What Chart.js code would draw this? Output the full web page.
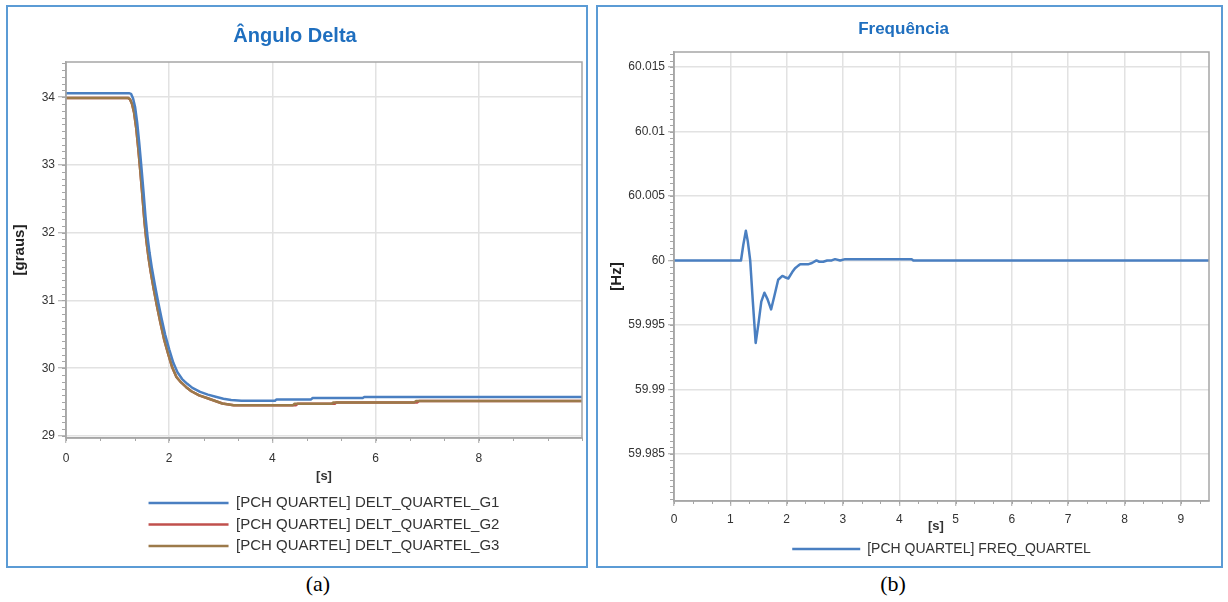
<!DOCTYPE html>
<html>
<head>
<meta charset="utf-8">
<script src="https://cdn.jsdelivr.net/npm/chart.js@4.4.0/dist/chart.umd.min.js"></script>
<style>
body { margin: 0; background: #fff; width: 1228px; height: 602px; position: relative; overflow: hidden; }
.box { position: absolute; border: 2px solid #5b9bd5; background: #fff; }
#boxA { left: 6px; top: 5px; width: 578px; height: 559px; }
#boxB { left: 596px; top: 5px; width: 623px; height: 559px; }
.cap { position: absolute; top: 571px; width: 100px; text-align: center; font: 22px "Liberation Serif", "Times New Roman", serif; color: #000; }
</style>
</head>
<body>
<div class="box" id="boxA"><canvas id="delta" width="578" height="559"></canvas></div>
<div class="box" id="boxB"><canvas id="freq" width="623" height="559"></canvas></div>
<div class="cap" style="left:268px">(a)</div>
<div class="cap" style="left:843px">(b)</div>
<script>
// Ângulo Delta (graus) x tempo (s)
const tG1 = [0, 1.22, 1.26, 1.30, 1.34, 1.38, 1.42, 1.46, 1.50, 1.54, 1.58, 1.62, 1.66, 1.72, 1.78, 1.85, 1.92, 2.00, 2.08, 2.16, 2.25, 2.35, 2.45, 2.60, 2.75, 2.90, 3.05, 3.20, 3.40, 4.05, 4.08, 4.75, 4.78, 5.75, 5.78, 10]
const vG1 = [34.06, 34.06, 34.05, 33.98, 33.85, 33.62, 33.32, 32.98, 32.62, 32.24, 31.94, 31.70, 31.50, 31.24, 31.00, 30.74, 30.50, 30.28, 30.08, 29.94, 29.84, 29.77, 29.71, 29.65, 29.61, 29.58, 29.55, 29.53, 29.52, 29.52, 29.54, 29.54, 29.56, 29.56, 29.575, 29.575]
const tG2 = [0, 1.20, 1.24, 1.28, 1.32, 1.36, 1.40, 1.44, 1.48, 1.52, 1.56, 1.60, 1.64, 1.70, 1.76, 1.83, 1.90, 1.98, 2.06, 2.14, 2.23, 2.33, 2.43, 2.58, 2.73, 2.88, 3.03, 3.25, 4.46, 4.49, 5.21, 5.24, 6.81, 6.84, 10]
const vG2 = [33.99, 33.99, 33.97, 33.90, 33.77, 33.55, 33.25, 32.91, 32.55, 32.17, 31.87, 31.63, 31.43, 31.17, 30.93, 30.67, 30.43, 30.21, 30.01, 29.87, 29.79, 29.72, 29.66, 29.60, 29.56, 29.52, 29.48, 29.455, 29.455, 29.475, 29.475, 29.495, 29.495, 29.515, 29.515]
const tG3 = [0, 1.20, 1.24, 1.28, 1.32, 1.36, 1.40, 1.44, 1.48, 1.52, 1.56, 1.60, 1.64, 1.70, 1.76, 1.83, 1.90, 1.98, 2.06, 2.14, 2.23, 2.33, 2.43, 2.58, 2.73, 2.88, 3.03, 3.25, 4.40, 4.43, 5.15, 5.18, 6.75, 6.78, 10]
const vG3 = [33.99, 33.99, 33.97, 33.90, 33.77, 33.55, 33.25, 32.91, 32.55, 32.17, 31.87, 31.63, 31.43, 31.17, 30.93, 30.67, 30.43, 30.21, 30.01, 29.87, 29.79, 29.72, 29.66, 29.60, 29.56, 29.52, 29.48, 29.455, 29.455, 29.475, 29.475, 29.495, 29.495, 29.515, 29.515]
const nomesDelta = ['[PCH QUARTEL] DELT_QUARTEL_G1', '[PCH QUARTEL] DELT_QUARTEL_G2', '[PCH QUARTEL] DELT_QUARTEL_G3']
const coresDelta = ['#4a7fc1', '#c0504d', '#9c7a4a']
const ticksDeltaX = [0, 2, 4, 6, 8]
const ticksDeltaY = [29, 30, 31, 32, 33, 34]

// Frequência (Hz) x tempo (s)
const tF = [0, 1.19, 1.23, 1.276, 1.31, 1.353, 1.40, 1.45, 1.50, 1.55, 1.606, 1.66, 1.724, 1.78, 1.85, 1.924, 1.97, 2.03, 2.10, 2.15, 2.207, 2.24, 2.30, 2.38, 2.45, 2.53, 2.58, 2.65, 2.72, 2.80, 2.86, 2.95, 3.04, 4.22, 4.25, 9.5]
const vF = [60, 60, 60.0012, 60.0023, 60.0015, 60.0, 59.9968, 59.9936, 59.9951, 59.9968, 59.9975, 59.9970, 59.9962, 59.9972, 59.9985, 59.9988, 59.9987, 59.9986, 59.9991, 59.9994, 59.9996, 59.9997, 59.9997, 59.9997, 59.9998, 60.0, 59.9999, 59.9999, 60.0, 60.0, 60.0001, 60.0, 60.0001, 60.0001, 60.0, 60.0]
const nomeFreq = '[PCH QUARTEL] FREQ_QUARTEL'
const ticksFreqX = [0, 1, 2, 3, 4, 5, 6, 7, 8, 9]
const ticksFreqY = [59.985, 59.99, 59.995, 60, 60.005, 60.01, 60.015]

Chart.defaults.font.family = '"Liberation Sans", Arial, sans-serif'
Chart.defaults.color = '#333'

const pares = (t, v) => t.map((x, i) => ({x: x, y: v[i]}))

// moldura do gráfico + tracinhos menores nos eixos
const moldura = {
    id: 'moldura',
    afterDraw(chart, args, o) {
        const {ctx, chartArea: a, scales: {x, y}} = chart
        ctx.save()
        ctx.strokeStyle = '#a6a6a6'
        ctx.lineWidth = 1.5
        ctx.strokeRect(a.left, a.top, a.right - a.left, a.bottom - a.top)
        ctx.lineWidth = 1
        ctx.beginPath()
        for (let i = Math.ceil(x.min / o.xStep - 1e-6); i * o.xStep <= x.max + 1e-9; i++) {
            const px = Math.round(x.getPixelForValue(i * o.xStep)) + 0.5
            ctx.moveTo(px, a.bottom)
            ctx.lineTo(px, a.bottom + 3)
        }
        for (let i = Math.ceil(y.min / o.yStep - 1e-6); i * o.yStep <= y.max + 1e-9; i++) {
            const py = Math.round(y.getPixelForValue(i * o.yStep)) + 0.5
            ctx.moveTo(a.left - 4, py)
            ctx.lineTo(a.left, py)
        }
        ctx.stroke()
        if (o.xLabel) {
            ctx.fillStyle = '#333'
            ctx.font = 'bold 13px "Liberation Sans", Arial, sans-serif'
            ctx.textAlign = 'center'
            ctx.textBaseline = 'middle'
            ctx.fillText(o.xLabel.text, x.getPixelForValue(o.xLabel.at), a.bottom + o.xLabel.dy)
        }
        ctx.restore()
    }
}

function eixo(ticksArr, tickLen, pad) {
    return {
        type: 'linear',
        afterBuildTicks: s => { s.ticks = ticksArr.map(v => ({value: v})) },
        grid: {color: '#e2e2e2', lineWidth: 1.5, tickColor: '#a6a6a6', tickLength: tickLen, tickWidth: 1},
        border: {color: '#a6a6a6', width: 1.5},
        ticks: {color: '#333', font: {size: 12}, padding: pad, maxRotation: 0, autoSkip: false, callback: v => String(v)}
    }
}

const xDelta = eixo(ticksDeltaX, 5, 8)
xDelta.min = 0
xDelta.max = 10
xDelta.afterFit = s => { s.height = 51 }
xDelta.title = {display: true, text: '[s]', color: '#333', font: {size: 13, weight: 'bold'}, padding: {top: 0, bottom: 5.2}}

const yDelta = eixo(ticksDeltaY, 8, 3)
yDelta.min = 28.97
yDelta.max = 34.52
yDelta.afterFit = s => { s.width = 58 }
yDelta.title = {display: true, text: '[graus]', color: '#222', font: {size: 15, weight: 'bold'}, padding: {top: 3, bottom: 0}}

new Chart(document.querySelector('#delta'), {
    type: 'line',
    data: {
        datasets: [
            {label: nomesDelta[0], data: pares(tG1, vG1), borderColor: coresDelta[0], order: 0},
            {label: nomesDelta[1], data: pares(tG2, vG2), borderColor: coresDelta[1], order: 2},
            {label: nomesDelta[2], data: pares(tG3, vG3), borderColor: coresDelta[2], order: 1}
        ].map(d => Object.assign(d, {borderWidth: 2.5, pointRadius: 0, tension: 0, borderJoinStyle: 'round', backgroundColor: d.borderColor}))
    },
    options: {
        responsive: false,
        animation: false,
        devicePixelRatio: 1,
        events: [],
        layout: {padding: {left: 0, top: 0, right: 4, bottom: 2.5}},
        scales: {x: xDelta, y: yDelta},
        plugins: {
            title: {display: true, text: 'Ângulo Delta', color: '#1f6fbf', font: {size: 20, weight: 'bold'}, padding: {top: 17, bottom: 14}},
            legend: {
                position: 'bottom',
                fullSize: false,
                labels: {usePointStyle: true, pointStyle: 'line', pointStyleWidth: 80, padding: 6.5, color: '#333', font: {size: 15},
                    sort: (a, b) => a.datasetIndex - b.datasetIndex}
            },
            tooltip: {enabled: false},
            moldura: {xStep: 2 / 3, yStep: 0.1}
        }
    },
    plugins: [moldura]
})

const xFreq = eixo(ticksFreqX, 5, 6)
xFreq.min = 0
xFreq.max = 9.5
xFreq.afterFit = s => { s.height = 36 }

const yFreq = eixo(ticksFreqY, 6, 3)
yFreq.min = 59.98134
yFreq.max = 60.01617
yFreq.afterFit = s => { s.width = 76 }
yFreq.title = {display: true, text: '[Hz]', color: '#222', font: {size: 15, weight: 'bold'}, padding: {top: 10, bottom: 0}}

new Chart(document.querySelector('#freq'), {
    type: 'line',
    data: {
        datasets: [
            {label: nomeFreq, data: pares(tF, vF), borderColor: '#4a7fc1', backgroundColor: '#4a7fc1', borderWidth: 2.5, pointRadius: 0, tension: 0, borderJoinStyle: 'round'}
        ]
    },
    options: {
        responsive: false,
        animation: false,
        devicePixelRatio: 1,
        events: [],
        layout: {padding: {left: 0, top: 0, right: 12, bottom: 0}},
        scales: {x: xFreq, y: yFreq},
        plugins: {
            title: {display: true, text: 'Frequência', color: '#1f6fbf', font: {size: 17, weight: 'bold'}, padding: {top: 11.8, bottom: 12.8}},
            legend: {
                position: 'bottom',
                fullSize: false,
                labels: {usePointStyle: true, pointStyle: 'line', pointStyleWidth: 68, padding: 5, color: '#333', font: {size: 14}}
            },
            tooltip: {enabled: false},
            moldura: {xStep: 1 / 3, yStep: 0.0005, xLabel: {text: '[s]', at: 4.65, dy: 25}}
        }
    },
    plugins: [moldura]
})
</script>
</body>
</html>
